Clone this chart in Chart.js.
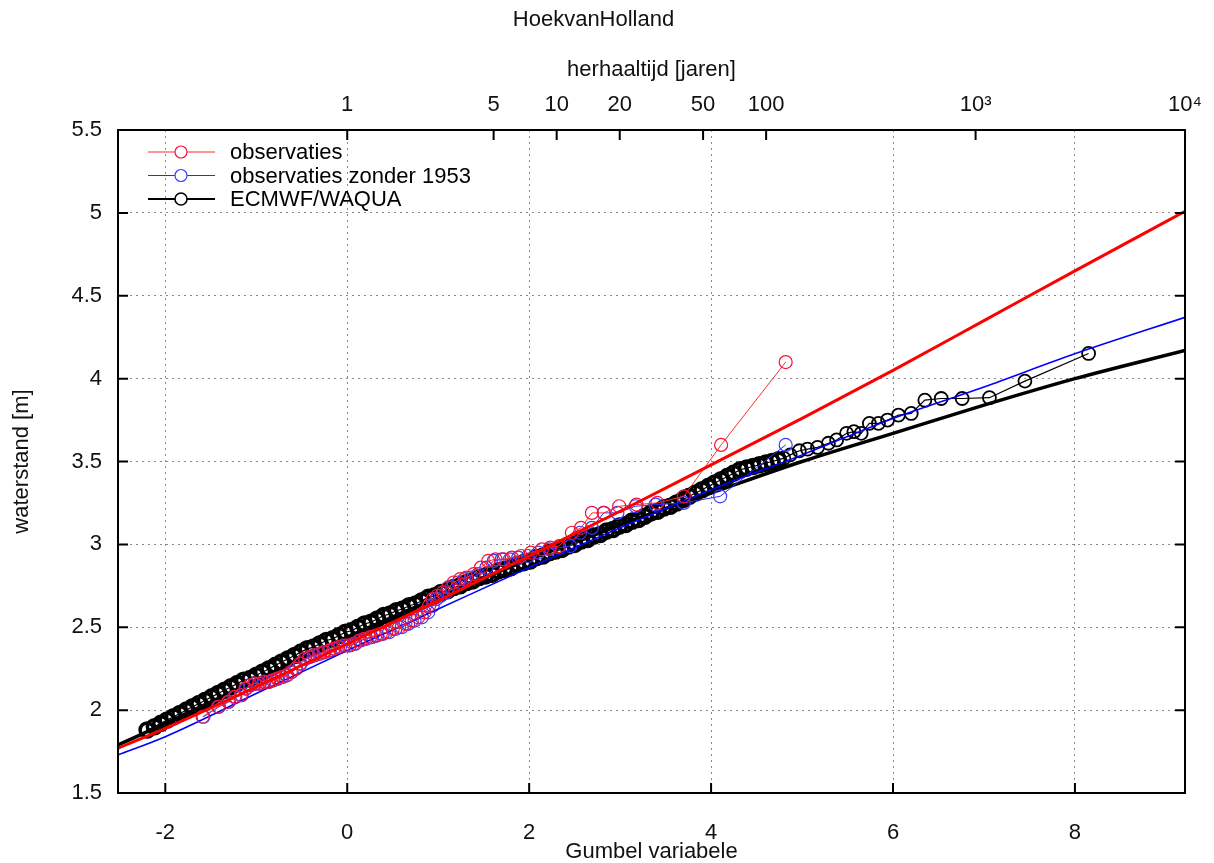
<!DOCTYPE html>
<html>
<head>
<meta charset="utf-8">
<script src="https://cdn.jsdelivr.net/npm/chart.js@4.4.1/dist/chart.umd.min.js"></script>
<style>
  html, body { margin: 0; padding: 0; background: #fff; }
</style>
</head>
<body>
<canvas id="gumbelChart" width="1214" height="863"></canvas>
<script>
// Gumbel plot Hoek van Holland: jaarmaxima vs herhaaltijd
const xRange = [-2.52, 9.21];
const yRange = [1.5, 5.5];
const xTicks = [-2, 0, 2, 4, 6, 8];
const yTicks = [1.5, 2, 2.5, 3, 3.5, 4, 4.5, 5, 5.5];
const periods = [1, 5, 10, 20, 50, 100, 1000, 10000];
const periodLabels = ['1', '5', '10', '20', '50', '100', '10³', '10⁴'];

// observaties [gumbel, waterstand]
const obs = [
  [-1.59, 1.96], [-1.42, 2.02], [-1.31, 2.05], [-1.24, 2.08], [-1.17, 2.09],
  [-1.12, 2.13], [-1.07, 2.15], [-1.02, 2.16], [-0.97, 2.16], [-0.92, 2.17],
  [-0.87, 2.17], [-0.82, 2.18], [-0.77, 2.19], [-0.72, 2.20], [-0.67, 2.21],
  [-0.62, 2.23], [-0.57, 2.25], [-0.52, 2.28], [-0.47, 2.31], [-0.42, 2.32],
  [-0.37, 2.33], [-0.31, 2.34], [-0.26, 2.35], [-0.20, 2.36], [-0.15, 2.37],
  [-0.10, 2.38], [-0.04, 2.39], [0.01, 2.39], [0.07, 2.40], [0.13, 2.42],
  [0.19, 2.43], [0.25, 2.44], [0.31, 2.45], [0.37, 2.46], [0.43, 2.47],
  [0.50, 2.49], [0.57, 2.50], [0.64, 2.52], [0.71, 2.54], [0.78, 2.56],
  [0.85, 2.59], [0.90, 2.63], [0.94, 2.67], [0.99, 2.69], [1.05, 2.71],
  [1.11, 2.74], [1.17, 2.77], [1.24, 2.79], [1.31, 2.80], [1.39, 2.82],
  [1.47, 2.86], [1.55, 2.90], [1.63, 2.91], [1.72, 2.91], [1.81, 2.92],
  [1.91, 2.93], [2.02, 2.95], [2.14, 2.97], [2.23, 2.98], [2.33, 2.99],
  [2.47, 3.07], [2.57, 3.10], [2.69, 3.19], [2.82, 3.19], [2.99, 3.23],
  [3.18, 3.24], [3.41, 3.25], [3.70, 3.29], [4.11, 3.60], [4.82, 4.10]
];

// observaties zonder 1953
const obsNo1953 = [
  [-1.58, 1.96], [-1.41, 2.02], [-1.30, 2.05], [-1.23, 2.08], [-1.16, 2.09],
  [-1.11, 2.13], [-1.06, 2.15], [-1.01, 2.16], [-0.96, 2.16], [-0.91, 2.17],
  [-0.86, 2.17], [-0.81, 2.18], [-0.76, 2.19], [-0.71, 2.20], [-0.66, 2.21],
  [-0.61, 2.23], [-0.56, 2.25], [-0.51, 2.28], [-0.46, 2.31], [-0.41, 2.32],
  [-0.36, 2.33], [-0.30, 2.34], [-0.25, 2.35], [-0.19, 2.36], [-0.14, 2.37],
  [-0.08, 2.38], [-0.02, 2.39], [0.03, 2.39], [0.09, 2.40], [0.15, 2.42],
  [0.21, 2.43], [0.27, 2.44], [0.33, 2.45], [0.39, 2.46], [0.46, 2.47],
  [0.53, 2.49], [0.60, 2.50], [0.67, 2.52], [0.74, 2.54], [0.82, 2.56],
  [0.89, 2.59], [0.94, 2.63], [0.98, 2.67], [1.03, 2.69], [1.09, 2.71],
  [1.15, 2.74], [1.22, 2.77], [1.29, 2.79], [1.36, 2.80], [1.44, 2.82],
  [1.53, 2.86], [1.61, 2.90], [1.70, 2.91], [1.79, 2.91], [1.88, 2.92],
  [1.99, 2.93], [2.10, 2.95], [2.22, 2.97], [2.33, 2.98], [2.45, 2.99],
  [2.56, 3.07], [2.69, 3.10], [2.82, 3.19], [2.97, 3.19], [3.17, 3.23],
  [3.39, 3.24], [3.70, 3.25], [4.10, 3.29], [4.82, 3.60]
];

// ECMWF/WAQUA
const ecmwf = [
  [-2.20, 1.88], [-2.12, 1.90], [-2.05, 1.92], [-1.98, 1.94], [-1.91, 1.96],
  [-1.84, 1.98], [-1.77, 2.00], [-1.70, 2.02], [-1.63, 2.04], [-1.56, 2.06],
  [-1.49, 2.08], [-1.42, 2.10], [-1.35, 2.12], [-1.28, 2.14], [-1.21, 2.16],
  [-1.14, 2.18], [-1.07, 2.19], [-1.00, 2.21], [-0.93, 2.23], [-0.86, 2.25],
  [-0.79, 2.27], [-0.72, 2.29], [-0.65, 2.31], [-0.58, 2.33], [-0.51, 2.35],
  [-0.44, 2.37], [-0.37, 2.38], [-0.30, 2.40], [-0.23, 2.42], [-0.16, 2.43],
  [-0.09, 2.45], [-0.02, 2.47], [0.05, 2.48], [0.12, 2.50], [0.19, 2.52],
  [0.26, 2.53], [0.33, 2.55], [0.40, 2.57], [0.47, 2.58], [0.54, 2.60],
  [0.61, 2.61], [0.68, 2.63], [0.75, 2.64], [0.82, 2.66], [0.89, 2.68],
  [0.96, 2.69], [1.03, 2.71], [1.10, 2.72], [1.17, 2.74], [1.24, 2.75],
  [1.31, 2.77], [1.38, 2.78], [1.45, 2.80], [1.52, 2.81], [1.59, 2.82],
  [1.66, 2.84], [1.73, 2.85], [1.80, 2.86], [1.87, 2.88], [1.94, 2.89],
  [2.01, 2.90], [2.08, 2.92], [2.15, 2.93], [2.22, 2.95], [2.29, 2.96],
  [2.36, 2.97], [2.43, 2.99], [2.50, 3.00], [2.57, 3.02], [2.64, 3.03],
  [2.71, 3.05], [2.78, 3.06], [2.85, 3.08], [2.92, 3.09], [2.99, 3.11],
  [3.06, 3.12], [3.13, 3.14], [3.20, 3.15], [3.27, 3.17], [3.34, 3.19],
  [3.41, 3.20], [3.48, 3.22], [3.55, 3.23], [3.62, 3.25], [3.69, 3.27],
  [3.76, 3.29], [3.83, 3.31], [3.90, 3.33], [3.97, 3.35], [4.04, 3.37],
  [4.11, 3.39], [4.18, 3.41], [4.25, 3.43], [4.32, 3.45], [4.39, 3.46],
  [4.46, 3.47], [4.53, 3.48], [4.60, 3.49], [4.67, 3.50], [4.74, 3.51],
  [4.80, 3.52], [4.87, 3.54], [4.97, 3.565], [5.06, 3.575], [5.17, 3.585],
  [5.29, 3.61], [5.38, 3.63], [5.49, 3.67], [5.57, 3.68], [5.65, 3.67],
  [5.74, 3.73], [5.84, 3.73], [5.94, 3.75], [6.06, 3.78], [6.20, 3.79],
  [6.35, 3.87], [6.53, 3.88], [6.76, 3.88], [7.06, 3.885], [7.45, 3.985],
  [8.15, 4.152]
];

// fitted distributions, read at these gumbel values
const fitX = [-2.52, -2, -1, 0, 1, 2, 3, 4, 5, 6, 7, 8, 9.21];
const fitObs = [1.77, 1.89, 2.14, 2.40, 2.66, 2.93, 3.20, 3.48, 3.76, 4.05, 4.35, 4.65, 5.01];
const fitNo1953 = [1.73, 1.84, 2.10, 2.36, 2.61, 2.86, 3.10, 3.33, 3.54, 3.76, 3.95, 4.15, 4.37];
const fitEcmwf = [1.79, 1.92, 2.18, 2.44, 2.68, 2.91, 3.12, 3.31, 3.50, 3.67, 3.84, 4.00, 4.17];

const toXY = (pairs) => pairs.map(p => ({ x: p[0], y: p[1] }));
const fitXY = (ys) => fitX.map((x, i) => ({ x: x, y: ys[i] }));

const FONT = "'Liberation Sans', Arial, Helvetica, sans-serif";

// gnuplot style frame with inward tick marks
const framePlugin = {
  id: 'frame',
  afterDraw(chart) {
    const { ctx, chartArea: a, scales } = chart;
    const len = 10;
    ctx.save();
    ctx.setLineDash([]);
    ctx.strokeStyle = '#000';
    ctx.lineWidth = 2;
    ctx.beginPath();
    scales.x.ticks.forEach(t => {
      const px = scales.x.getPixelForValue(t.value);
      ctx.moveTo(px, a.bottom); ctx.lineTo(px, a.bottom - len);
    });
    scales.x2.ticks.forEach(t => {
      const px = scales.x2.getPixelForValue(t.value);
      ctx.moveTo(px, a.top); ctx.lineTo(px, a.top + len);
    });
    scales.y.ticks.forEach(t => {
      const py = scales.y.getPixelForValue(t.value);
      ctx.moveTo(a.left, py); ctx.lineTo(a.left + len, py);
      ctx.moveTo(a.right, py); ctx.lineTo(a.right - len, py);
    });
    ctx.stroke();
    ctx.strokeRect(a.left, a.top, a.right - a.left, a.bottom - a.top);
    ctx.restore();
  }
};

// legend inside the plot, top left: line with open circle
const legendPlugin = {
  id: 'keyBox',
  afterDraw(chart) {
    const { ctx, chartArea: a } = chart;
    const items = chart.data.datasets.filter(d => d.inKey);
    ctx.save();
    ctx.font = '22px ' + FONT;
    ctx.textBaseline = 'middle';
    ctx.textAlign = 'left';
    items.forEach((d, i) => {
      const y = a.top + 22 + i * 23.5;
      const x0 = a.left + 30, x1 = a.left + 97, cx = a.left + 63;
      ctx.strokeStyle = d.borderColor;
      ctx.lineWidth = d.keyLineWidth;
      ctx.beginPath(); ctx.moveTo(x0, y); ctx.lineTo(x1, y); ctx.stroke();
      ctx.fillStyle = '#fff';
      ctx.strokeStyle = d.pointBorderColor;
      ctx.lineWidth = d.keyPointWidth;
      ctx.beginPath(); ctx.arc(cx, y, 6, 0, Math.PI * 2); ctx.fill(); ctx.stroke();
      ctx.fillStyle = '#000';
      ctx.fillText(d.label, a.left + 112, y + 1);
    });
    ctx.restore();
  }
};

const ctx = document.getElementById('gumbelChart').getContext('2d');

new Chart(ctx, {
  type: 'scatter',
  data: {
    datasets: [
      {
        label: 'observaties', inKey: true, keyLineWidth: 1, keyPointWidth: 1.2,
        data: toXY(obs), showLine: true,
        borderColor: '#ff2a2a', borderWidth: 1,
        pointRadius: 6.5, pointBorderWidth: 1.2,
        pointBorderColor: '#f0143c', pointBackgroundColor: 'rgba(0,0,0,0)',
        order: 1
      },
      {
        label: 'observaties zonder 1953', inKey: true, keyLineWidth: 1, keyPointWidth: 1.2,
        data: toXY(obsNo1953), showLine: true,
        borderColor: '#2a2aff', borderWidth: 1,
        pointRadius: 6.5, pointBorderWidth: 1.2,
        pointBorderColor: '#3a3aff', pointBackgroundColor: 'rgba(0,0,0,0)',
        order: 3
      },
      {
        label: 'ECMWF/WAQUA', inKey: true, keyLineWidth: 2, keyPointWidth: 1.6,
        data: toXY(ecmwf), showLine: true,
        borderColor: '#000', borderWidth: 1.2,
        pointRadius: (c) => (c.raw && c.raw.x < 4.75 ? 7 : 6.5),
        pointBorderWidth: (c) => (c.raw && c.raw.x < 4.75 ? 3.6 : 1.8),
        pointBorderColor: '#000', pointBackgroundColor: 'rgba(0,0,0,0)',
        order: 5
      },
      {
        label: 'fit observaties',
        data: fitXY(fitObs), showLine: true,
        borderColor: '#ff0000', borderWidth: 3,
        pointRadius: 0, cubicInterpolationMode: 'monotone',
        order: 0
      },
      {
        label: 'fit zonder 1953',
        data: fitXY(fitNo1953), showLine: true,
        borderColor: '#0000ff', borderWidth: 1.6,
        pointRadius: 0, cubicInterpolationMode: 'monotone',
        order: 2
      },
      {
        label: 'fit ECMWF/WAQUA',
        data: fitXY(fitEcmwf), showLine: true,
        borderColor: '#000', borderWidth: 3.5,
        pointRadius: 0, cubicInterpolationMode: 'monotone',
        order: 4
      }
    ]
  },
  options: {
    responsive: false,
    animation: false,
    events: [],
    layout: { padding: { left: 0, right: 27, top: 0, bottom: 0 } },
    plugins: {
      legend: { display: false },
      tooltip: { enabled: false },
      title: {
        display: true,
        text: 'HoekvanHolland',
        color: '#111',
        font: { family: FONT, size: 22, weight: 'normal', lineHeight: 1.2 },
        padding: { top: 7, bottom: 0 }
      }
    },
    scales: {
      x: {
        type: 'linear', position: 'bottom',
        min: xRange[0], max: xRange[1],
        afterBuildTicks: s => { s.ticks = xTicks.map(v => ({ value: v })); },
        afterFit: s => { s.height = 70; },
        grid: { color: '#8a8a8a', lineWidth: 1, drawTicks: false },
        border: { display: false, dash: [2, 4] },
        ticks: { color: '#111', padding: 27, maxRotation: 0, autoSkip: false,
                 callback: v => String(v),
                 font: { family: FONT, size: 22, lineHeight: 1.2 } },
        title: { display: true, text: 'Gumbel variabele', color: '#111',
                 font: { family: FONT, size: 22, lineHeight: 1.2 },
                 padding: { top: 0, bottom: -2 } }
      },
      x2: {
        type: 'linear', position: 'top',
        min: xRange[0], max: xRange[1],
        afterBuildTicks: s => { s.ticks = periods.map(T => ({ value: Math.log(T) })); },
        afterFit: s => { s.height = 96.6; },
        grid: { display: false, drawTicks: false },
        border: { display: false },
        ticks: { color: '#111', padding: 12, maxRotation: 0, autoSkip: false,
                 callback: (v, i) => periodLabels[i],
                 font: { family: FONT, size: 22, lineHeight: 1.2 } },
        title: { display: true, text: 'herhaaltijd [jaren]', color: '#111',
                 font: { family: FONT, size: 22, lineHeight: 1.2 },
                 padding: { top: 23.4, bottom: 0 } }
      },
      y: {
        type: 'linear', position: 'left',
        min: yRange[0], max: yRange[1],
        afterBuildTicks: s => { s.ticks = yTicks.map(v => ({ value: v })); },
        afterFit: s => { s.width = 118; },
        grid: { color: '#8a8a8a', lineWidth: 1, drawTicks: false },
        border: { display: false, dash: [2, 4] },
        ticks: { color: '#111', padding: 16, autoSkip: false,
                 callback: v => String(v),
                 font: { family: FONT, size: 22, lineHeight: 1.2 } },
        title: { display: true, text: 'waterstand [m]', color: '#111',
                 font: { family: FONT, size: 22, lineHeight: 1.2 },
                 padding: { top: 9, bottom: 0 } }
      }
    }
  },
  plugins: [framePlugin, legendPlugin]
});
</script>
</body>
</html>
